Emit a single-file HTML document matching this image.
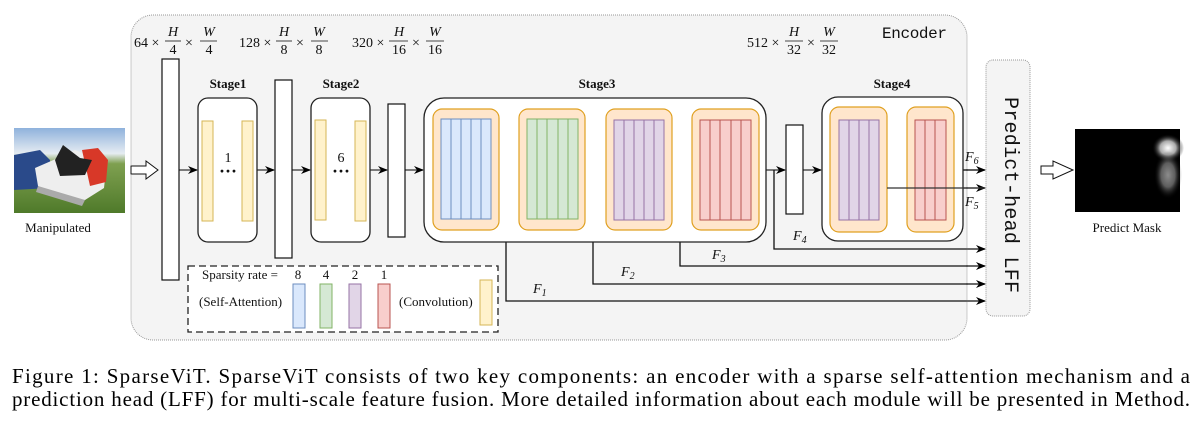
<!DOCTYPE html>
<html><head><meta charset="utf-8"><style>
html,body{margin:0;padding:0;background:#fff;width:1202px;height:425px;overflow:hidden}
svg{display:block}
.s{font-family:"Liberation Serif",serif}
</style></head><body>
<svg width="1202" height="425" viewBox="0 0 1202 425" xmlns="http://www.w3.org/2000/svg">
<defs>
<marker id="ah" markerWidth="10" markerHeight="8" refX="9" refY="4" orient="auto" markerUnits="userSpaceOnUse">
<path d="M0,0 L10,4 L0,8 L3,4 Z" fill="#000"/></marker>
<linearGradient id="sky" x1="0" y1="0" x2="0" y2="1">
<stop offset="0" stop-color="#8fb2dc"/><stop offset="0.3" stop-color="#e6ecf2"/><stop offset="0.42" stop-color="#7fa050"/><stop offset="1" stop-color="#4f7a2a"/></linearGradient>
<radialGradient id="blob" cx="0.5" cy="0.5" r="0.5"><stop offset="0" stop-color="#fff"/><stop offset="0.5" stop-color="#aaa"/><stop offset="1" stop-color="#000" stop-opacity="0"/></radialGradient>
</defs>

<rect x="131" y="15" width="836" height="325" rx="22" fill="#f4f4f4" stroke="#999" stroke-dasharray="1,1"/>
<rect x="986" y="60" width="44" height="256" rx="7" fill="#f4f4f4" stroke="#999" stroke-dasharray="1,1"/>
<text transform="translate(1005,97) rotate(90)" font-family="Liberation Mono,monospace" font-size="20" fill="#111" textLength="196">Predict-head LFF</text>
<text x="882" y="38" font-family="Liberation Mono,monospace" font-size="16" fill="#111" textLength="65">Encoder</text>

<g class="s" font-size="14" fill="#111">
<text x="134" y="47">64 ×</text><text x="173" y="36" font-style="italic" text-anchor="middle">H</text><line x1="165" y1="41" x2="181" y2="41" stroke="#111" stroke-width="0.8"/><text x="173" y="54" text-anchor="middle">4</text>
<text x="185" y="47">×</text><text x="209" y="36" font-style="italic" text-anchor="middle">W</text><line x1="200" y1="41" x2="217" y2="41" stroke="#111" stroke-width="0.8"/><text x="209" y="54" text-anchor="middle">4</text>

<text x="239" y="47">128 ×</text><text x="284" y="36" font-style="italic" text-anchor="middle">H</text><line x1="276" y1="41" x2="292" y2="41" stroke="#111" stroke-width="0.8"/><text x="284" y="54" text-anchor="middle">8</text>
<text x="296" y="47">×</text><text x="319" y="36" font-style="italic" text-anchor="middle">W</text><line x1="311" y1="41" x2="328" y2="41" stroke="#111" stroke-width="0.8"/><text x="319" y="54" text-anchor="middle">8</text>

<text x="352" y="47">320 ×</text><text x="399" y="36" font-style="italic" text-anchor="middle">H</text><line x1="389" y1="41" x2="408" y2="41" stroke="#111" stroke-width="0.8"/><text x="399" y="54" text-anchor="middle">16</text>
<text x="412" y="47">×</text><text x="435" y="36" font-style="italic" text-anchor="middle">W</text><line x1="426" y1="41" x2="444" y2="41" stroke="#111" stroke-width="0.8"/><text x="435" y="54" text-anchor="middle">16</text>

<text x="747" y="47">512 ×</text><text x="794" y="36" font-style="italic" text-anchor="middle">H</text><line x1="785" y1="41" x2="803" y2="41" stroke="#111" stroke-width="0.8"/><text x="794" y="54" text-anchor="middle">32</text>
<text x="807" y="47">×</text><text x="829" y="36" font-style="italic" text-anchor="middle">W</text><line x1="820" y1="41" x2="838" y2="41" stroke="#111" stroke-width="0.8"/><text x="829" y="54" text-anchor="middle">32</text>
</g>

<g class="s" font-size="13" font-weight="bold" fill="#111" text-anchor="middle">
<text x="228" y="88">Stage1</text><text x="341" y="88">Stage2</text><text x="597" y="88">Stage3</text><text x="892" y="88">Stage4</text>
</g>

<g stroke="#333" stroke-width="1.3" fill="none">
<line x1="179" y1="170" x2="197" y2="170" marker-end="url(#ah)"/>
<line x1="257" y1="170" x2="274" y2="170" marker-end="url(#ah)"/>
<line x1="292" y1="170" x2="310" y2="170" marker-end="url(#ah)"/>
<line x1="370" y1="170" x2="387" y2="170" marker-end="url(#ah)"/>
<line x1="405" y1="170" x2="423" y2="170" marker-end="url(#ah)"/>
<line x1="499" y1="170" x2="518" y2="170" marker-end="url(#ah)"/>
<line x1="585" y1="170" x2="605" y2="170" marker-end="url(#ah)"/>
<line x1="672" y1="170" x2="691" y2="170" marker-end="url(#ah)"/>
<line x1="766" y1="170" x2="785" y2="170" marker-end="url(#ah)"/>
<line x1="803" y1="170" x2="821" y2="170" marker-end="url(#ah)"/>
<line x1="887" y1="170" x2="906" y2="170" stroke="#000" stroke-width="2" marker-end="url(#ah)"/>
<line x1="954" y1="170" x2="985" y2="170" stroke="#000" marker-end="url(#ah)"/>
<polyline points="887,188 985,188" stroke="#111" marker-end="url(#ah)"/>
<polyline points="774,170 774,249 985,249" stroke="#111" marker-end="url(#ah)"/>
<polyline points="680,170 680,266 985,266" stroke="#111" marker-end="url(#ah)"/>
<polyline points="593,170 593,284 985,284" stroke="#111" marker-end="url(#ah)"/>
<polyline points="506,170 506,301 985,301" stroke="#111" marker-end="url(#ah)"/>
</g>

<g fill="#fff" stroke="#111" stroke-width="1.2">
<rect x="162" y="59" width="17" height="221"/>
<rect x="275" y="80" width="17" height="178"/>
<rect x="388" y="104" width="17" height="133"/>
<rect x="786" y="125" width="17" height="89"/>
</g>

<g stroke="#222" stroke-width="1.3" fill="#fff">
<rect x="198" y="98" width="59" height="144" rx="10"/>
<rect x="311" y="98" width="59" height="144" rx="10"/>
<rect x="424" y="98" width="342" height="144" rx="20"/>
<rect x="822" y="97" width="141" height="144" rx="16"/>
</g>
<g fill="#fff2cc" stroke="#d6b656">
<rect x="202" y="121" width="11" height="100"/><rect x="242" y="121" width="11" height="100"/>
<rect x="315" y="120" width="11" height="100"/><rect x="355" y="121" width="11" height="100"/>
</g>
<g class="s" font-size="14" fill="#111" text-anchor="middle">
<text x="228" y="162">1</text><text x="341" y="162">6</text>
<text x="228" y="177" font-weight="bold" font-size="18">···</text><text x="341" y="177" font-weight="bold" font-size="18">···</text>
</g>

<g fill="#ffe6cc" stroke="#e0a020" stroke-width="1.2">
<rect x="433" y="109" width="66" height="121" rx="9"/>
<rect x="519" y="109" width="66" height="121" rx="9"/>
<rect x="606" y="109" width="66" height="121" rx="9"/>
<rect x="692" y="109" width="67" height="121" rx="9"/>
<rect x="830" y="107" width="57" height="125" rx="9"/>
<rect x="907" y="107" width="47" height="125" rx="9"/>
</g>
<g stroke-width="1">
<rect x="441" y="119" width="50" height="100" fill="#dae8fc" stroke="#6c8ebf"/>
<path d="M451,119V219M461,119V219M471,119V219M481,119V219" stroke="#6c8ebf"/>
<rect x="527" y="119" width="51" height="100" fill="#d5e8d4" stroke="#82b366"/>
<path d="M537,119V219M547,119V219M558,119V219M568,119V219" stroke="#82b366"/>
<rect x="614" y="120" width="50" height="100" fill="#e1d5e7" stroke="#9673a6"/>
<path d="M624,120V220M634,120V220M644,120V220M654,120V220" stroke="#9673a6"/>
<rect x="700" y="120" width="51" height="100" fill="#f8cecc" stroke="#b85450"/>
<path d="M710,120V220M720,120V220M731,120V220M741,120V220" stroke="#b85450"/>
<rect x="839" y="120" width="40" height="100" fill="#e1d5e7" stroke="#9673a6"/>
<path d="M849,120V220M859,120V220M869,120V220" stroke="#9673a6"/>
<rect x="915" y="120" width="31" height="100" fill="#f8cecc" stroke="#b85450"/>
<path d="M925,120V220M935,120V220" stroke="#b85450"/>
</g>
<line x1="887" y1="188" x2="985" y2="188" stroke="#333" stroke-width="1.3"/>

<g class="s" font-size="14" font-style="italic" fill="#111">
<text x="965" y="161">F<tspan font-size="10" dy="3">6</tspan></text>
<text x="965" y="206">F<tspan font-size="10" dy="3">5</tspan></text>
<text x="793" y="240">F<tspan font-size="10" dy="3">4</tspan></text>
<text x="712" y="259">F<tspan font-size="10" dy="3">3</tspan></text>
<text x="621" y="276">F<tspan font-size="10" dy="3">2</tspan></text>
<text x="533" y="293">F<tspan font-size="10" dy="3">1</tspan></text>
</g>

<rect x="188" y="266" width="310" height="66" fill="#fff" stroke="#222" stroke-width="1.3" stroke-dasharray="7,4"/>
<g class="s" font-size="13" fill="#111">
<text x="202" y="279">Sparsity rate =</text>
<text x="298" y="279" text-anchor="middle">8</text><text x="326" y="279" text-anchor="middle">4</text>
<text x="355" y="279" text-anchor="middle">2</text><text x="384" y="279" text-anchor="middle">1</text>
<text x="199" y="306">(Self-Attention)</text>
<text x="399" y="306">(Convolution)</text>
</g>
<rect x="293" y="284" width="12" height="44" fill="#dae8fc" stroke="#6c8ebf"/>
<rect x="320" y="284" width="12" height="44" fill="#d5e8d4" stroke="#82b366"/>
<rect x="349" y="284" width="12" height="44" fill="#e1d5e7" stroke="#9673a6"/>
<rect x="378" y="284" width="12" height="44" fill="#f8cecc" stroke="#b85450"/>
<rect x="480" y="280" width="12" height="45" fill="#fff2cc" stroke="#d6b656"/>

<rect x="14" y="128" width="111" height="85" fill="url(#sky)"/>
<path d="M14,155 L40,150 L50,160 L50,188 L14,190 Z" fill="#2a4a8a"/>
<path d="M35,168 L58,158 L75,150 L100,160 L106,170 L104,188 L85,200 L60,198 L38,186 Z" fill="#eee"/>
<path d="M82,150 L98,148 L108,160 L106,182 L90,186 Z" fill="#d83828"/>
<path d="M55,160 L63,145 L80,158 L92,160 L85,175 L60,176 Z" fill="#222"/>
<path d="M38,186 L85,200 L82,206 L36,192 Z" fill="#aaa"/>
<text x="58" y="232" class="s" font-size="13" fill="#111" text-anchor="middle">Manipulated</text>
<path d="M131,166 H146 V161 L158,170 L146,179 V174 H131 Z" fill="#fff" stroke="#111"/>

<path d="M1041,166 H1053 V161 L1073,170 L1053,179 V174 H1041 Z" fill="#fff" stroke="#111"/>
<rect x="1075" y="129" width="105" height="83" fill="#000"/>
<ellipse cx="1168" cy="148" rx="16" ry="14" fill="url(#blob)"/>
<ellipse cx="1168" cy="175" rx="14" ry="24" fill="url(#blob)" opacity="0.55"/>
<text x="1127" y="232" class="s" font-size="13" fill="#111" text-anchor="middle">Predict Mask</text>

<g class="s" font-size="21" fill="#000">
<text x="12" y="383" textLength="1178" lengthAdjust="spacing">Figure 1: SparseViT. SparseViT consists of two key components: an encoder with a sparse self-attention mechanism and a</text>
<text x="12" y="406" textLength="1178" lengthAdjust="spacing">prediction head (LFF) for multi-scale feature fusion. More detailed information about each module will be presented in Method.</text>
</g>
</svg>
</body></html>
